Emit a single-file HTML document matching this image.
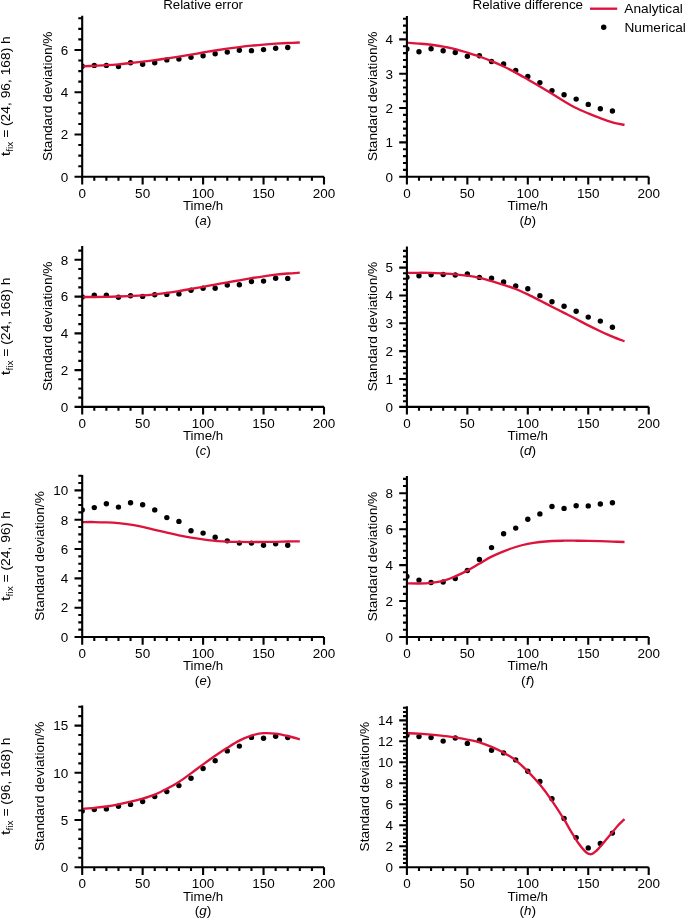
<!DOCTYPE html>
<html><head><meta charset="utf-8"><title>Standard deviation plots</title>
<style>
html,body{margin:0;padding:0;background:#fff;}
body{width:685px;height:919px;overflow:hidden;}
svg{display:block;will-change:transform;}
text{font-family:"Liberation Sans",sans-serif;fill:#000;}
</style></head>
<body>
<svg width="685" height="919" viewBox="0 0 685 919">
<rect width="685" height="919" fill="#fff"/>
<clipPath id="clipa"><rect x="82.20" y="10.80" width="241.80" height="165.95"/></clipPath>
<g clip-path="url(#clipa)">
<circle cx="82.20" cy="66.30" r="2.7"/>
<circle cx="94.29" cy="65.40" r="2.7"/>
<circle cx="106.38" cy="65.40" r="2.7"/>
<circle cx="118.47" cy="66.60" r="2.7"/>
<circle cx="130.56" cy="62.70" r="2.7"/>
<circle cx="142.65" cy="64.30" r="2.7"/>
<circle cx="154.74" cy="62.70" r="2.7"/>
<circle cx="166.83" cy="59.90" r="2.7"/>
<circle cx="178.92" cy="59.10" r="2.7"/>
<circle cx="191.01" cy="57.35" r="2.7"/>
<circle cx="203.10" cy="55.70" r="2.7"/>
<circle cx="215.19" cy="53.80" r="2.7"/>
<circle cx="227.28" cy="52.10" r="2.7"/>
<circle cx="239.37" cy="50.30" r="2.7"/>
<circle cx="251.46" cy="50.65" r="2.7"/>
<circle cx="263.55" cy="49.60" r="2.7"/>
<circle cx="275.64" cy="48.25" r="2.7"/>
<circle cx="287.73" cy="47.50" r="2.7"/>
<path d="M82.20,66.35C84.22,66.26 90.26,65.99 94.29,65.80C98.32,65.61 102.35,65.45 106.38,65.20C110.41,64.95 114.44,64.67 118.47,64.30C122.50,63.93 126.53,63.43 130.56,63.00C134.59,62.57 138.62,62.17 142.65,61.70C146.68,61.23 150.71,60.75 154.74,60.20C158.77,59.65 162.80,59.00 166.83,58.40C170.86,57.80 174.89,57.23 178.92,56.60C182.95,55.97 186.98,55.28 191.01,54.60C195.04,53.92 199.07,53.18 203.10,52.50C207.13,51.82 211.16,51.13 215.19,50.50C219.22,49.87 223.25,49.27 227.28,48.70C231.31,48.13 235.34,47.60 239.37,47.10C243.40,46.60 247.43,46.12 251.46,45.70C255.49,45.28 259.52,44.93 263.55,44.60C267.58,44.27 271.61,43.97 275.64,43.70C279.67,43.43 283.70,43.20 287.73,43.00C291.76,42.80 297.81,42.58 299.82,42.50" fill="none" stroke="#dc143c" stroke-width="2.35" stroke-linejoin="round"/>
</g>
<path d="M82.20,15.80V176.75H324.00" fill="none" stroke="#000" stroke-width="2.1" stroke-linecap="butt" stroke-linejoin="miter"/>
<path d="M82.20,176.75v7.7M142.65,176.75v7.7M203.10,176.75v7.7M263.55,176.75v7.7M324.00,176.75v7.7M94.29,176.75v3.9M106.38,176.75v3.9M118.47,176.75v3.9M130.56,176.75v3.9M154.74,176.75v3.9M166.83,176.75v3.9M178.92,176.75v3.9M191.01,176.75v3.9M215.19,176.75v3.9M227.28,176.75v3.9M239.37,176.75v3.9M251.46,176.75v3.9M275.64,176.75v3.9M287.73,176.75v3.9M299.82,176.75v3.9M311.91,176.75v3.9M82.20,176.75h-7.7M82.20,134.49h-7.7M82.20,92.23h-7.7M82.20,49.97h-7.7M82.20,166.19h-3.9M82.20,155.62h-3.9M82.20,145.06h-3.9M82.20,123.93h-3.9M82.20,113.36h-3.9M82.20,102.80h-3.9M82.20,81.67h-3.9M82.20,71.10h-3.9M82.20,60.54h-3.9M82.20,39.41h-3.9M82.20,28.84h-3.9M82.20,18.28h-3.9" stroke="#000" stroke-width="2.1" fill="none"/>
<text x="78.45" y="197.80" font-size="12.80" textLength="7.51" lengthAdjust="spacingAndGlyphs">0</text>
<text x="135.14" y="197.80" font-size="12.80" textLength="15.02" lengthAdjust="spacingAndGlyphs">50</text>
<text x="191.84" y="197.80" font-size="12.80" textLength="22.52" lengthAdjust="spacingAndGlyphs">100</text>
<text x="252.29" y="197.80" font-size="12.80" textLength="22.52" lengthAdjust="spacingAndGlyphs">150</text>
<text x="312.74" y="197.80" font-size="12.80" textLength="22.52" lengthAdjust="spacingAndGlyphs">200</text>
<text x="60.79" y="181.55" font-size="12.80" textLength="7.51" lengthAdjust="spacingAndGlyphs">0</text>
<text x="60.79" y="139.29" font-size="12.80" textLength="7.51" lengthAdjust="spacingAndGlyphs">2</text>
<text x="60.79" y="97.03" font-size="12.80" textLength="7.51" lengthAdjust="spacingAndGlyphs">4</text>
<text x="60.79" y="54.77" font-size="12.80" textLength="7.51" lengthAdjust="spacingAndGlyphs">6</text>
<text x="182.93" y="210.20" font-size="12.80" textLength="40.33" lengthAdjust="spacingAndGlyphs">Time/h</text>
<text x="194.88" y="224.80" font-size="12.80" textLength="4.60" lengthAdjust="spacingAndGlyphs">(</text>
<text x="199.48" y="224.80" font-size="12.80" textLength="7.23" lengthAdjust="spacingAndGlyphs" font-style="italic">a</text>
<text x="206.72" y="224.80" font-size="12.80" textLength="4.60" lengthAdjust="spacingAndGlyphs">)</text>
<text transform="translate(52.00,96.28) rotate(-90)" x="-64.73" y="0" font-size="12.80" textLength="129.47" lengthAdjust="spacingAndGlyphs">Standard deviation/&#37;</text>
<text transform="translate(9.75,156.33) rotate(-90)" x="0.00" y="0" font-size="12.80" textLength="4.63" lengthAdjust="spacingAndGlyphs">t</text>
<text transform="translate(12.75,151.70) rotate(-90)" x="0.00" y="0" font-size="8.96" textLength="10.09" lengthAdjust="spacingAndGlyphs">fix</text>
<text transform="translate(9.75,137.86) rotate(-90)" x="0.00" y="0" font-size="12.80" textLength="101.63" lengthAdjust="spacingAndGlyphs">= (24, 96, 168) h</text>
<clipPath id="clipb"><rect x="406.90" y="10.90" width="241.80" height="165.85"/></clipPath>
<g clip-path="url(#clipb)">
<circle cx="406.90" cy="49.00" r="2.7"/>
<circle cx="418.99" cy="51.80" r="2.7"/>
<circle cx="431.08" cy="48.70" r="2.7"/>
<circle cx="443.17" cy="50.80" r="2.7"/>
<circle cx="455.26" cy="52.50" r="2.7"/>
<circle cx="467.35" cy="56.20" r="2.7"/>
<circle cx="479.44" cy="55.70" r="2.7"/>
<circle cx="491.53" cy="61.50" r="2.7"/>
<circle cx="503.62" cy="64.05" r="2.7"/>
<circle cx="515.71" cy="70.50" r="2.7"/>
<circle cx="527.80" cy="76.40" r="2.7"/>
<circle cx="539.89" cy="82.60" r="2.7"/>
<circle cx="551.98" cy="90.60" r="2.7"/>
<circle cx="564.07" cy="94.70" r="2.7"/>
<circle cx="576.16" cy="99.10" r="2.7"/>
<circle cx="588.25" cy="104.40" r="2.7"/>
<circle cx="600.34" cy="108.80" r="2.7"/>
<circle cx="612.43" cy="111.00" r="2.7"/>
<path d="M406.90,42.70C408.91,42.85 414.96,43.26 418.99,43.60C423.02,43.94 427.05,44.23 431.08,44.75C435.11,45.27 439.14,45.98 443.17,46.70C447.20,47.43 451.23,48.12 455.26,49.10C459.29,50.08 463.32,51.37 467.35,52.60C471.38,53.83 475.41,55.07 479.44,56.50C483.47,57.93 487.50,59.53 491.53,61.20C495.56,62.87 499.59,64.60 503.62,66.50C507.65,68.40 511.68,70.45 515.71,72.60C519.74,74.75 523.77,77.10 527.80,79.40C531.83,81.70 535.86,84.02 539.89,86.40C543.92,88.78 547.95,91.23 551.98,93.70C556.01,96.17 560.04,98.82 564.07,101.20C568.10,103.58 572.13,105.97 576.16,108.00C580.19,110.03 584.22,111.70 588.25,113.40C592.28,115.10 596.31,116.72 600.34,118.20C604.37,119.68 608.40,121.17 612.43,122.30C616.46,123.43 622.50,124.55 624.52,125.00" fill="none" stroke="#dc143c" stroke-width="2.35" stroke-linejoin="round"/>
</g>
<path d="M406.90,15.90V176.75H648.70" fill="none" stroke="#000" stroke-width="2.1" stroke-linecap="butt" stroke-linejoin="miter"/>
<path d="M406.90,176.75v7.7M467.35,176.75v7.7M527.80,176.75v7.7M588.25,176.75v7.7M648.70,176.75v7.7M418.99,176.75v3.9M431.08,176.75v3.9M443.17,176.75v3.9M455.26,176.75v3.9M479.44,176.75v3.9M491.53,176.75v3.9M503.62,176.75v3.9M515.71,176.75v3.9M539.89,176.75v3.9M551.98,176.75v3.9M564.07,176.75v3.9M576.16,176.75v3.9M600.34,176.75v3.9M612.43,176.75v3.9M624.52,176.75v3.9M636.61,176.75v3.9M406.90,176.75h-7.7M406.90,142.40h-7.7M406.90,108.05h-7.7M406.90,73.70h-7.7M406.90,39.35h-7.7M406.90,169.88h-3.9M406.90,163.01h-3.9M406.90,156.14h-3.9M406.90,149.27h-3.9M406.90,135.53h-3.9M406.90,128.66h-3.9M406.90,121.79h-3.9M406.90,114.92h-3.9M406.90,101.18h-3.9M406.90,94.31h-3.9M406.90,87.44h-3.9M406.90,80.57h-3.9M406.90,66.83h-3.9M406.90,59.96h-3.9M406.90,53.09h-3.9M406.90,46.22h-3.9M406.90,32.48h-3.9M406.90,25.61h-3.9M406.90,18.74h-3.9" stroke="#000" stroke-width="2.1" fill="none"/>
<text x="403.15" y="197.80" font-size="12.80" textLength="7.51" lengthAdjust="spacingAndGlyphs">0</text>
<text x="459.84" y="197.80" font-size="12.80" textLength="15.02" lengthAdjust="spacingAndGlyphs">50</text>
<text x="516.54" y="197.80" font-size="12.80" textLength="22.52" lengthAdjust="spacingAndGlyphs">100</text>
<text x="576.99" y="197.80" font-size="12.80" textLength="22.52" lengthAdjust="spacingAndGlyphs">150</text>
<text x="637.44" y="197.80" font-size="12.80" textLength="22.52" lengthAdjust="spacingAndGlyphs">200</text>
<text x="385.49" y="181.55" font-size="12.80" textLength="7.51" lengthAdjust="spacingAndGlyphs">0</text>
<text x="385.49" y="147.20" font-size="12.80" textLength="7.51" lengthAdjust="spacingAndGlyphs">1</text>
<text x="385.49" y="112.85" font-size="12.80" textLength="7.51" lengthAdjust="spacingAndGlyphs">2</text>
<text x="385.49" y="78.50" font-size="12.80" textLength="7.51" lengthAdjust="spacingAndGlyphs">3</text>
<text x="385.49" y="44.15" font-size="12.80" textLength="7.51" lengthAdjust="spacingAndGlyphs">4</text>
<text x="507.63" y="210.20" font-size="12.80" textLength="40.33" lengthAdjust="spacingAndGlyphs">Time/h</text>
<text x="519.45" y="224.80" font-size="12.80" textLength="4.60" lengthAdjust="spacingAndGlyphs">(</text>
<text x="524.05" y="224.80" font-size="12.80" textLength="7.49" lengthAdjust="spacingAndGlyphs" font-style="italic">b</text>
<text x="531.55" y="224.80" font-size="12.80" textLength="4.60" lengthAdjust="spacingAndGlyphs">)</text>
<text transform="translate(376.70,96.33) rotate(-90)" x="-64.73" y="0" font-size="12.80" textLength="129.47" lengthAdjust="spacingAndGlyphs">Standard deviation/&#37;</text>
<clipPath id="clipc"><rect x="82.20" y="240.95" width="241.80" height="165.91"/></clipPath>
<g clip-path="url(#clipc)">
<circle cx="82.20" cy="297.00" r="2.7"/>
<circle cx="94.29" cy="295.20" r="2.7"/>
<circle cx="106.38" cy="295.20" r="2.7"/>
<circle cx="118.47" cy="297.30" r="2.7"/>
<circle cx="130.56" cy="295.80" r="2.7"/>
<circle cx="142.65" cy="296.40" r="2.7"/>
<circle cx="154.74" cy="294.80" r="2.7"/>
<circle cx="166.83" cy="294.40" r="2.7"/>
<circle cx="178.92" cy="293.90" r="2.7"/>
<circle cx="191.01" cy="290.20" r="2.7"/>
<circle cx="203.10" cy="288.30" r="2.7"/>
<circle cx="215.19" cy="288.30" r="2.7"/>
<circle cx="227.28" cy="285.10" r="2.7"/>
<circle cx="239.37" cy="284.70" r="2.7"/>
<circle cx="251.46" cy="281.50" r="2.7"/>
<circle cx="263.55" cy="281.10" r="2.7"/>
<circle cx="275.64" cy="278.20" r="2.7"/>
<circle cx="287.73" cy="278.40" r="2.7"/>
<path d="M82.20,297.00C84.22,297.00 90.26,297.03 94.29,297.00C98.32,296.97 102.35,296.88 106.38,296.80C110.41,296.72 114.44,296.63 118.47,296.50C122.50,296.37 126.53,296.18 130.56,296.00C134.59,295.82 138.62,295.68 142.65,295.40C146.68,295.12 150.71,294.72 154.74,294.30C158.77,293.88 162.80,293.43 166.83,292.90C170.86,292.37 174.89,291.75 178.92,291.10C182.95,290.45 186.98,289.72 191.01,289.00C195.04,288.28 199.07,287.53 203.10,286.80C207.13,286.07 211.16,285.33 215.19,284.60C219.22,283.87 223.25,283.12 227.28,282.40C231.31,281.68 235.34,281.00 239.37,280.30C243.40,279.60 247.43,278.87 251.46,278.20C255.49,277.53 259.52,276.88 263.55,276.30C267.58,275.72 271.61,275.17 275.64,274.70C279.67,274.23 283.70,273.83 287.73,273.50C291.76,273.17 297.81,272.83 299.82,272.70" fill="none" stroke="#dc143c" stroke-width="2.35" stroke-linejoin="round"/>
</g>
<path d="M82.20,245.95V406.86H324.00" fill="none" stroke="#000" stroke-width="2.1" stroke-linecap="butt" stroke-linejoin="miter"/>
<path d="M82.20,406.86v7.7M142.65,406.86v7.7M203.10,406.86v7.7M263.55,406.86v7.7M324.00,406.86v7.7M94.29,406.86v3.9M106.38,406.86v3.9M118.47,406.86v3.9M130.56,406.86v3.9M154.74,406.86v3.9M166.83,406.86v3.9M178.92,406.86v3.9M191.01,406.86v3.9M215.19,406.86v3.9M227.28,406.86v3.9M239.37,406.86v3.9M251.46,406.86v3.9M275.64,406.86v3.9M287.73,406.86v3.9M299.82,406.86v3.9M311.91,406.86v3.9M82.20,406.86h-7.7M82.20,370.10h-7.7M82.20,333.34h-7.7M82.20,296.58h-7.7M82.20,259.82h-7.7M82.20,397.67h-3.9M82.20,388.48h-3.9M82.20,379.29h-3.9M82.20,360.91h-3.9M82.20,351.72h-3.9M82.20,342.53h-3.9M82.20,324.15h-3.9M82.20,314.96h-3.9M82.20,305.77h-3.9M82.20,287.39h-3.9M82.20,278.20h-3.9M82.20,269.01h-3.9M82.20,250.63h-3.9" stroke="#000" stroke-width="2.1" fill="none"/>
<text x="78.45" y="427.91" font-size="12.80" textLength="7.51" lengthAdjust="spacingAndGlyphs">0</text>
<text x="135.14" y="427.91" font-size="12.80" textLength="15.02" lengthAdjust="spacingAndGlyphs">50</text>
<text x="191.84" y="427.91" font-size="12.80" textLength="22.52" lengthAdjust="spacingAndGlyphs">100</text>
<text x="252.29" y="427.91" font-size="12.80" textLength="22.52" lengthAdjust="spacingAndGlyphs">150</text>
<text x="312.74" y="427.91" font-size="12.80" textLength="22.52" lengthAdjust="spacingAndGlyphs">200</text>
<text x="60.79" y="411.66" font-size="12.80" textLength="7.51" lengthAdjust="spacingAndGlyphs">0</text>
<text x="60.79" y="374.90" font-size="12.80" textLength="7.51" lengthAdjust="spacingAndGlyphs">2</text>
<text x="60.79" y="338.14" font-size="12.80" textLength="7.51" lengthAdjust="spacingAndGlyphs">4</text>
<text x="60.79" y="301.38" font-size="12.80" textLength="7.51" lengthAdjust="spacingAndGlyphs">6</text>
<text x="60.79" y="264.62" font-size="12.80" textLength="7.51" lengthAdjust="spacingAndGlyphs">8</text>
<text x="182.93" y="440.31" font-size="12.80" textLength="40.33" lengthAdjust="spacingAndGlyphs">Time/h</text>
<text x="195.25" y="454.91" font-size="12.80" textLength="4.60" lengthAdjust="spacingAndGlyphs">(</text>
<text x="199.86" y="454.91" font-size="12.80" textLength="6.49" lengthAdjust="spacingAndGlyphs" font-style="italic">c</text>
<text x="206.34" y="454.91" font-size="12.80" textLength="4.60" lengthAdjust="spacingAndGlyphs">)</text>
<text transform="translate(52.00,326.40) rotate(-90)" x="-64.73" y="0" font-size="12.80" textLength="129.47" lengthAdjust="spacingAndGlyphs">Standard deviation/&#37;</text>
<text transform="translate(9.75,375.20) rotate(-90)" x="0.00" y="0" font-size="12.80" textLength="4.63" lengthAdjust="spacingAndGlyphs">t</text>
<text transform="translate(12.75,370.57) rotate(-90)" x="0.00" y="0" font-size="8.96" textLength="10.09" lengthAdjust="spacingAndGlyphs">fix</text>
<text transform="translate(9.75,356.73) rotate(-90)" x="0.00" y="0" font-size="12.80" textLength="79.11" lengthAdjust="spacingAndGlyphs">= (24, 168) h</text>
<clipPath id="clipd"><rect x="406.90" y="241.40" width="241.80" height="165.46"/></clipPath>
<g clip-path="url(#clipd)">
<circle cx="406.90" cy="277.30" r="2.7"/>
<circle cx="418.99" cy="275.80" r="2.7"/>
<circle cx="431.08" cy="274.85" r="2.7"/>
<circle cx="443.17" cy="274.50" r="2.7"/>
<circle cx="455.26" cy="275.00" r="2.7"/>
<circle cx="467.35" cy="274.00" r="2.7"/>
<circle cx="479.44" cy="277.40" r="2.7"/>
<circle cx="491.53" cy="278.20" r="2.7"/>
<circle cx="503.62" cy="281.95" r="2.7"/>
<circle cx="515.71" cy="286.00" r="2.7"/>
<circle cx="527.80" cy="288.80" r="2.7"/>
<circle cx="539.89" cy="295.65" r="2.7"/>
<circle cx="551.98" cy="301.70" r="2.7"/>
<circle cx="564.07" cy="306.20" r="2.7"/>
<circle cx="576.16" cy="311.30" r="2.7"/>
<circle cx="588.25" cy="317.10" r="2.7"/>
<circle cx="600.34" cy="321.10" r="2.7"/>
<circle cx="612.43" cy="327.20" r="2.7"/>
<path d="M406.90,272.90C408.91,272.88 414.96,272.80 418.99,272.80C423.02,272.80 427.05,272.78 431.08,272.90C435.11,273.02 439.14,273.27 443.17,273.50C447.20,273.73 451.23,273.93 455.26,274.30C459.29,274.67 463.32,275.10 467.35,275.70C471.38,276.30 475.41,277.00 479.44,277.90C483.47,278.80 487.50,279.94 491.53,281.10C495.56,282.26 499.59,283.53 503.62,284.85C507.65,286.17 511.68,287.41 515.71,289.00C519.74,290.59 523.77,292.48 527.80,294.40C531.83,296.32 535.86,298.43 539.89,300.50C543.92,302.57 547.95,304.73 551.98,306.80C556.01,308.87 560.04,310.87 564.07,312.90C568.10,314.93 572.13,316.92 576.16,319.00C580.19,321.08 584.22,323.37 588.25,325.40C592.28,327.43 596.31,329.33 600.34,331.20C604.37,333.07 608.40,334.92 612.43,336.60C616.46,338.28 622.50,340.52 624.52,341.30" fill="none" stroke="#dc143c" stroke-width="2.35" stroke-linejoin="round"/>
</g>
<path d="M406.90,246.40V406.86H648.70" fill="none" stroke="#000" stroke-width="2.1" stroke-linecap="butt" stroke-linejoin="miter"/>
<path d="M406.90,406.86v7.7M467.35,406.86v7.7M527.80,406.86v7.7M588.25,406.86v7.7M648.70,406.86v7.7M418.99,406.86v3.9M431.08,406.86v3.9M443.17,406.86v3.9M455.26,406.86v3.9M479.44,406.86v3.9M491.53,406.86v3.9M503.62,406.86v3.9M515.71,406.86v3.9M539.89,406.86v3.9M551.98,406.86v3.9M564.07,406.86v3.9M576.16,406.86v3.9M600.34,406.86v3.9M612.43,406.86v3.9M624.52,406.86v3.9M636.61,406.86v3.9M406.90,406.86h-7.7M406.90,379.01h-7.7M406.90,351.16h-7.7M406.90,323.31h-7.7M406.90,295.46h-7.7M406.90,267.61h-7.7M406.90,401.29h-3.9M406.90,395.72h-3.9M406.90,390.15h-3.9M406.90,384.58h-3.9M406.90,373.44h-3.9M406.90,367.87h-3.9M406.90,362.30h-3.9M406.90,356.73h-3.9M406.90,345.59h-3.9M406.90,340.02h-3.9M406.90,334.45h-3.9M406.90,328.88h-3.9M406.90,317.74h-3.9M406.90,312.17h-3.9M406.90,306.60h-3.9M406.90,301.03h-3.9M406.90,289.89h-3.9M406.90,284.32h-3.9M406.90,278.75h-3.9M406.90,273.18h-3.9M406.90,262.04h-3.9M406.90,256.47h-3.9M406.90,250.90h-3.9" stroke="#000" stroke-width="2.1" fill="none"/>
<text x="403.15" y="427.91" font-size="12.80" textLength="7.51" lengthAdjust="spacingAndGlyphs">0</text>
<text x="459.84" y="427.91" font-size="12.80" textLength="15.02" lengthAdjust="spacingAndGlyphs">50</text>
<text x="516.54" y="427.91" font-size="12.80" textLength="22.52" lengthAdjust="spacingAndGlyphs">100</text>
<text x="576.99" y="427.91" font-size="12.80" textLength="22.52" lengthAdjust="spacingAndGlyphs">150</text>
<text x="637.44" y="427.91" font-size="12.80" textLength="22.52" lengthAdjust="spacingAndGlyphs">200</text>
<text x="385.49" y="411.66" font-size="12.80" textLength="7.51" lengthAdjust="spacingAndGlyphs">0</text>
<text x="385.49" y="383.81" font-size="12.80" textLength="7.51" lengthAdjust="spacingAndGlyphs">1</text>
<text x="385.49" y="355.96" font-size="12.80" textLength="7.51" lengthAdjust="spacingAndGlyphs">2</text>
<text x="385.49" y="328.11" font-size="12.80" textLength="7.51" lengthAdjust="spacingAndGlyphs">3</text>
<text x="385.49" y="300.26" font-size="12.80" textLength="7.51" lengthAdjust="spacingAndGlyphs">4</text>
<text x="385.49" y="272.41" font-size="12.80" textLength="7.51" lengthAdjust="spacingAndGlyphs">5</text>
<text x="507.63" y="440.31" font-size="12.80" textLength="40.33" lengthAdjust="spacingAndGlyphs">Time/h</text>
<text x="519.45" y="454.91" font-size="12.80" textLength="4.60" lengthAdjust="spacingAndGlyphs">(</text>
<text x="524.05" y="454.91" font-size="12.80" textLength="7.49" lengthAdjust="spacingAndGlyphs" font-style="italic">d</text>
<text x="531.55" y="454.91" font-size="12.80" textLength="4.60" lengthAdjust="spacingAndGlyphs">)</text>
<text transform="translate(376.70,326.63) rotate(-90)" x="-64.73" y="0" font-size="12.80" textLength="129.47" lengthAdjust="spacingAndGlyphs">Standard deviation/&#37;</text>
<clipPath id="clipe"><rect x="82.20" y="470.00" width="241.80" height="167.00"/></clipPath>
<g clip-path="url(#clipe)">
<circle cx="82.20" cy="509.90" r="2.7"/>
<circle cx="94.29" cy="507.60" r="2.7"/>
<circle cx="106.38" cy="503.80" r="2.7"/>
<circle cx="118.47" cy="507.10" r="2.7"/>
<circle cx="130.56" cy="502.80" r="2.7"/>
<circle cx="142.65" cy="504.70" r="2.7"/>
<circle cx="154.74" cy="509.90" r="2.7"/>
<circle cx="166.83" cy="517.60" r="2.7"/>
<circle cx="178.92" cy="521.40" r="2.7"/>
<circle cx="191.01" cy="530.70" r="2.7"/>
<circle cx="203.10" cy="533.10" r="2.7"/>
<circle cx="215.19" cy="537.30" r="2.7"/>
<circle cx="227.28" cy="540.85" r="2.7"/>
<circle cx="239.37" cy="543.10" r="2.7"/>
<circle cx="251.46" cy="543.10" r="2.7"/>
<circle cx="263.55" cy="545.20" r="2.7"/>
<circle cx="275.64" cy="543.80" r="2.7"/>
<circle cx="287.73" cy="545.20" r="2.7"/>
<path d="M82.20,522.10C84.22,522.09 90.26,522.00 94.29,522.05C98.32,522.10 102.35,522.21 106.38,522.40C110.41,522.59 114.44,522.83 118.47,523.20C122.50,523.57 126.53,524.00 130.56,524.60C134.59,525.20 138.62,525.93 142.65,526.80C146.68,527.67 150.71,528.83 154.74,529.80C158.77,530.77 162.80,531.68 166.83,532.60C170.86,533.52 174.89,534.47 178.92,535.30C182.95,536.13 186.98,536.92 191.01,537.60C195.04,538.28 199.07,538.85 203.10,539.40C207.13,539.95 211.16,540.53 215.19,540.90C219.22,541.27 223.25,541.43 227.28,541.60C231.31,541.77 235.34,541.83 239.37,541.90C243.40,541.97 247.43,542.05 251.46,542.05C255.49,542.05 259.52,541.94 263.55,541.90C267.58,541.86 271.61,541.87 275.64,541.80C279.67,541.73 283.70,541.58 287.73,541.50C291.76,541.42 297.81,541.33 299.82,541.30" fill="none" stroke="#dc143c" stroke-width="2.35" stroke-linejoin="round"/>
</g>
<path d="M82.20,475.00V637.00H324.00" fill="none" stroke="#000" stroke-width="2.1" stroke-linecap="butt" stroke-linejoin="miter"/>
<path d="M82.20,637.00v7.7M142.65,637.00v7.7M203.10,637.00v7.7M263.55,637.00v7.7M324.00,637.00v7.7M94.29,637.00v3.9M106.38,637.00v3.9M118.47,637.00v3.9M130.56,637.00v3.9M154.74,637.00v3.9M166.83,637.00v3.9M178.92,637.00v3.9M191.01,637.00v3.9M215.19,637.00v3.9M227.28,637.00v3.9M239.37,637.00v3.9M251.46,637.00v3.9M275.64,637.00v3.9M287.73,637.00v3.9M299.82,637.00v3.9M311.91,637.00v3.9M82.20,637.00h-7.7M82.20,607.68h-7.7M82.20,578.36h-7.7M82.20,549.04h-7.7M82.20,519.72h-7.7M82.20,490.40h-7.7M82.20,629.67h-3.9M82.20,622.34h-3.9M82.20,615.01h-3.9M82.20,600.35h-3.9M82.20,593.02h-3.9M82.20,585.69h-3.9M82.20,571.03h-3.9M82.20,563.70h-3.9M82.20,556.37h-3.9M82.20,541.71h-3.9M82.20,534.38h-3.9M82.20,527.05h-3.9M82.20,512.39h-3.9M82.20,505.06h-3.9M82.20,497.73h-3.9M82.20,483.07h-3.9M82.20,475.74h-3.9" stroke="#000" stroke-width="2.1" fill="none"/>
<text x="78.45" y="658.05" font-size="12.80" textLength="7.51" lengthAdjust="spacingAndGlyphs">0</text>
<text x="135.14" y="658.05" font-size="12.80" textLength="15.02" lengthAdjust="spacingAndGlyphs">50</text>
<text x="191.84" y="658.05" font-size="12.80" textLength="22.52" lengthAdjust="spacingAndGlyphs">100</text>
<text x="252.29" y="658.05" font-size="12.80" textLength="22.52" lengthAdjust="spacingAndGlyphs">150</text>
<text x="312.74" y="658.05" font-size="12.80" textLength="22.52" lengthAdjust="spacingAndGlyphs">200</text>
<text x="60.79" y="641.80" font-size="12.80" textLength="7.51" lengthAdjust="spacingAndGlyphs">0</text>
<text x="60.79" y="612.48" font-size="12.80" textLength="7.51" lengthAdjust="spacingAndGlyphs">2</text>
<text x="60.79" y="583.16" font-size="12.80" textLength="7.51" lengthAdjust="spacingAndGlyphs">4</text>
<text x="60.79" y="553.84" font-size="12.80" textLength="7.51" lengthAdjust="spacingAndGlyphs">6</text>
<text x="60.79" y="524.52" font-size="12.80" textLength="7.51" lengthAdjust="spacingAndGlyphs">8</text>
<text x="53.28" y="495.20" font-size="12.80" textLength="15.02" lengthAdjust="spacingAndGlyphs">10</text>
<text x="182.93" y="670.45" font-size="12.80" textLength="40.33" lengthAdjust="spacingAndGlyphs">Time/h</text>
<text x="194.87" y="685.05" font-size="12.80" textLength="4.60" lengthAdjust="spacingAndGlyphs">(</text>
<text x="199.47" y="685.05" font-size="12.80" textLength="7.26" lengthAdjust="spacingAndGlyphs" font-style="italic">e</text>
<text x="206.73" y="685.05" font-size="12.80" textLength="4.60" lengthAdjust="spacingAndGlyphs">)</text>
<text transform="translate(44.49,556.00) rotate(-90)" x="-64.73" y="0" font-size="12.80" textLength="129.47" lengthAdjust="spacingAndGlyphs">Standard deviation/&#37;</text>
<text transform="translate(9.75,601.04) rotate(-90)" x="0.00" y="0" font-size="12.80" textLength="4.63" lengthAdjust="spacingAndGlyphs">t</text>
<text transform="translate(12.75,596.41) rotate(-90)" x="0.00" y="0" font-size="8.96" textLength="10.09" lengthAdjust="spacingAndGlyphs">fix</text>
<text transform="translate(9.75,582.57) rotate(-90)" x="0.00" y="0" font-size="12.80" textLength="71.61" lengthAdjust="spacingAndGlyphs">= (24, 96) h</text>
<clipPath id="clipf"><rect x="406.90" y="471.05" width="241.80" height="165.95"/></clipPath>
<g clip-path="url(#clipf)">
<circle cx="406.90" cy="576.40" r="2.7"/>
<circle cx="418.99" cy="580.10" r="2.7"/>
<circle cx="431.08" cy="582.50" r="2.7"/>
<circle cx="443.17" cy="582.00" r="2.7"/>
<circle cx="455.26" cy="578.50" r="2.7"/>
<circle cx="467.35" cy="570.50" r="2.7"/>
<circle cx="479.44" cy="559.40" r="2.7"/>
<circle cx="491.53" cy="547.60" r="2.7"/>
<circle cx="503.62" cy="533.80" r="2.7"/>
<circle cx="515.71" cy="528.10" r="2.7"/>
<circle cx="527.80" cy="519.20" r="2.7"/>
<circle cx="539.89" cy="513.90" r="2.7"/>
<circle cx="551.98" cy="506.50" r="2.7"/>
<circle cx="564.07" cy="508.40" r="2.7"/>
<circle cx="576.16" cy="505.80" r="2.7"/>
<circle cx="588.25" cy="505.90" r="2.7"/>
<circle cx="600.34" cy="504.00" r="2.7"/>
<circle cx="612.43" cy="502.80" r="2.7"/>
<path d="M406.90,583.30C408.91,583.33 414.96,583.58 418.99,583.50C423.02,583.42 427.05,583.28 431.08,582.85C435.11,582.42 439.14,581.99 443.17,580.90C447.20,579.81 451.23,578.02 455.26,576.30C459.29,574.58 463.32,572.72 467.35,570.60C471.38,568.48 475.41,565.93 479.44,563.60C483.47,561.27 487.50,558.65 491.53,556.60C495.56,554.55 499.59,552.90 503.62,551.30C507.65,549.70 511.68,548.23 515.71,547.00C519.74,545.77 523.77,544.73 527.80,543.90C531.83,543.07 535.86,542.48 539.89,542.00C543.92,541.52 547.95,541.22 551.98,541.00C556.01,540.78 560.04,540.75 564.07,540.70C568.10,540.65 572.13,540.68 576.16,540.70C580.19,540.72 584.22,540.73 588.25,540.80C592.28,540.87 596.31,540.97 600.34,541.10C604.37,541.23 608.40,541.45 612.43,541.60C616.46,541.75 622.50,541.93 624.52,542.00" fill="none" stroke="#dc143c" stroke-width="2.35" stroke-linejoin="round"/>
</g>
<path d="M406.90,476.05V637.00H648.70" fill="none" stroke="#000" stroke-width="2.1" stroke-linecap="butt" stroke-linejoin="miter"/>
<path d="M406.90,637.00v7.7M467.35,637.00v7.7M527.80,637.00v7.7M588.25,637.00v7.7M648.70,637.00v7.7M418.99,637.00v3.9M431.08,637.00v3.9M443.17,637.00v3.9M455.26,637.00v3.9M479.44,637.00v3.9M491.53,637.00v3.9M503.62,637.00v3.9M515.71,637.00v3.9M539.89,637.00v3.9M551.98,637.00v3.9M564.07,637.00v3.9M576.16,637.00v3.9M600.34,637.00v3.9M612.43,637.00v3.9M624.52,637.00v3.9M636.61,637.00v3.9M406.90,637.00h-7.7M406.90,601.06h-7.7M406.90,565.12h-7.7M406.90,529.18h-7.7M406.90,493.24h-7.7M406.90,629.81h-3.9M406.90,622.62h-3.9M406.90,615.44h-3.9M406.90,608.25h-3.9M406.90,593.87h-3.9M406.90,586.68h-3.9M406.90,579.50h-3.9M406.90,572.31h-3.9M406.90,557.93h-3.9M406.90,550.74h-3.9M406.90,543.56h-3.9M406.90,536.37h-3.9M406.90,521.99h-3.9M406.90,514.80h-3.9M406.90,507.62h-3.9M406.90,500.43h-3.9M406.90,486.05h-3.9M406.90,478.86h-3.9" stroke="#000" stroke-width="2.1" fill="none"/>
<text x="403.15" y="658.05" font-size="12.80" textLength="7.51" lengthAdjust="spacingAndGlyphs">0</text>
<text x="459.84" y="658.05" font-size="12.80" textLength="15.02" lengthAdjust="spacingAndGlyphs">50</text>
<text x="516.54" y="658.05" font-size="12.80" textLength="22.52" lengthAdjust="spacingAndGlyphs">100</text>
<text x="576.99" y="658.05" font-size="12.80" textLength="22.52" lengthAdjust="spacingAndGlyphs">150</text>
<text x="637.44" y="658.05" font-size="12.80" textLength="22.52" lengthAdjust="spacingAndGlyphs">200</text>
<text x="385.49" y="641.80" font-size="12.80" textLength="7.51" lengthAdjust="spacingAndGlyphs">0</text>
<text x="385.49" y="605.86" font-size="12.80" textLength="7.51" lengthAdjust="spacingAndGlyphs">2</text>
<text x="385.49" y="569.92" font-size="12.80" textLength="7.51" lengthAdjust="spacingAndGlyphs">4</text>
<text x="385.49" y="533.98" font-size="12.80" textLength="7.51" lengthAdjust="spacingAndGlyphs">6</text>
<text x="385.49" y="498.04" font-size="12.80" textLength="7.51" lengthAdjust="spacingAndGlyphs">8</text>
<text x="507.63" y="670.45" font-size="12.80" textLength="40.33" lengthAdjust="spacingAndGlyphs">Time/h</text>
<text x="521.12" y="685.05" font-size="12.80" textLength="4.60" lengthAdjust="spacingAndGlyphs">(</text>
<text x="525.72" y="685.05" font-size="12.80" textLength="4.15" lengthAdjust="spacingAndGlyphs" font-style="italic">f</text>
<text x="529.88" y="685.05" font-size="12.80" textLength="4.60" lengthAdjust="spacingAndGlyphs">)</text>
<text transform="translate(376.70,556.52) rotate(-90)" x="-64.73" y="0" font-size="12.80" textLength="129.47" lengthAdjust="spacingAndGlyphs">Standard deviation/&#37;</text>
<clipPath id="clipg"><rect x="82.20" y="700.40" width="241.80" height="166.80"/></clipPath>
<g clip-path="url(#clipg)">
<circle cx="82.20" cy="810.90" r="2.7"/>
<circle cx="94.29" cy="809.60" r="2.7"/>
<circle cx="106.38" cy="808.90" r="2.7"/>
<circle cx="118.47" cy="806.20" r="2.7"/>
<circle cx="130.56" cy="804.40" r="2.7"/>
<circle cx="142.65" cy="801.50" r="2.7"/>
<circle cx="154.74" cy="796.60" r="2.7"/>
<circle cx="166.83" cy="791.60" r="2.7"/>
<circle cx="178.92" cy="785.60" r="2.7"/>
<circle cx="191.01" cy="778.25" r="2.7"/>
<circle cx="203.10" cy="768.50" r="2.7"/>
<circle cx="215.19" cy="760.70" r="2.7"/>
<circle cx="227.28" cy="750.90" r="2.7"/>
<circle cx="239.37" cy="746.10" r="2.7"/>
<circle cx="251.46" cy="737.40" r="2.7"/>
<circle cx="263.55" cy="738.30" r="2.7"/>
<circle cx="275.64" cy="736.30" r="2.7"/>
<circle cx="287.73" cy="737.50" r="2.7"/>
<path d="M82.20,808.80C84.22,808.63 90.26,808.18 94.29,807.80C98.32,807.42 102.35,807.07 106.38,806.50C110.41,805.93 114.44,805.20 118.47,804.40C122.50,803.60 126.53,802.67 130.56,801.70C134.59,800.73 138.62,799.78 142.65,798.60C146.68,797.42 150.71,796.23 154.74,794.60C158.77,792.97 162.80,790.92 166.83,788.80C170.86,786.68 174.89,784.47 178.92,781.90C182.95,779.33 186.98,776.32 191.01,773.40C195.04,770.48 199.07,767.33 203.10,764.40C207.13,761.47 211.16,758.57 215.19,755.80C219.22,753.03 223.25,750.33 227.28,747.80C231.31,745.27 235.34,742.63 239.37,740.60C243.40,738.57 247.43,736.83 251.46,735.60C255.49,734.37 259.52,733.53 263.55,733.20C267.58,732.87 271.61,733.13 275.64,733.60C279.67,734.07 283.70,735.05 287.73,736.00C291.76,736.95 297.81,738.75 299.82,739.30" fill="none" stroke="#dc143c" stroke-width="2.35" stroke-linejoin="round"/>
</g>
<path d="M82.20,705.40V867.20H324.00" fill="none" stroke="#000" stroke-width="2.1" stroke-linecap="butt" stroke-linejoin="miter"/>
<path d="M82.20,867.20v7.7M142.65,867.20v7.7M203.10,867.20v7.7M263.55,867.20v7.7M324.00,867.20v7.7M94.29,867.20v3.9M106.38,867.20v3.9M118.47,867.20v3.9M130.56,867.20v3.9M154.74,867.20v3.9M166.83,867.20v3.9M178.92,867.20v3.9M191.01,867.20v3.9M215.19,867.20v3.9M227.28,867.20v3.9M239.37,867.20v3.9M251.46,867.20v3.9M275.64,867.20v3.9M287.73,867.20v3.9M299.82,867.20v3.9M311.91,867.20v3.9M82.20,867.20h-7.7M82.20,820.00h-7.7M82.20,772.80h-7.7M82.20,725.60h-7.7M82.20,857.76h-3.9M82.20,848.32h-3.9M82.20,838.88h-3.9M82.20,829.44h-3.9M82.20,810.56h-3.9M82.20,801.12h-3.9M82.20,791.68h-3.9M82.20,782.24h-3.9M82.20,763.36h-3.9M82.20,753.92h-3.9M82.20,744.48h-3.9M82.20,735.04h-3.9M82.20,716.16h-3.9M82.20,706.72h-3.9" stroke="#000" stroke-width="2.1" fill="none"/>
<text x="78.45" y="888.25" font-size="12.80" textLength="7.51" lengthAdjust="spacingAndGlyphs">0</text>
<text x="135.14" y="888.25" font-size="12.80" textLength="15.02" lengthAdjust="spacingAndGlyphs">50</text>
<text x="191.84" y="888.25" font-size="12.80" textLength="22.52" lengthAdjust="spacingAndGlyphs">100</text>
<text x="252.29" y="888.25" font-size="12.80" textLength="22.52" lengthAdjust="spacingAndGlyphs">150</text>
<text x="312.74" y="888.25" font-size="12.80" textLength="22.52" lengthAdjust="spacingAndGlyphs">200</text>
<text x="60.79" y="872.00" font-size="12.80" textLength="7.51" lengthAdjust="spacingAndGlyphs">0</text>
<text x="60.79" y="824.80" font-size="12.80" textLength="7.51" lengthAdjust="spacingAndGlyphs">5</text>
<text x="53.28" y="777.60" font-size="12.80" textLength="15.02" lengthAdjust="spacingAndGlyphs">10</text>
<text x="53.28" y="730.40" font-size="12.80" textLength="15.02" lengthAdjust="spacingAndGlyphs">15</text>
<text x="182.93" y="900.65" font-size="12.80" textLength="40.33" lengthAdjust="spacingAndGlyphs">Time/h</text>
<text x="194.75" y="915.25" font-size="12.80" textLength="4.60" lengthAdjust="spacingAndGlyphs">(</text>
<text x="199.35" y="915.25" font-size="12.80" textLength="7.49" lengthAdjust="spacingAndGlyphs" font-style="italic">g</text>
<text x="206.85" y="915.25" font-size="12.80" textLength="4.60" lengthAdjust="spacingAndGlyphs">)</text>
<text transform="translate(44.49,786.30) rotate(-90)" x="-64.73" y="0" font-size="12.80" textLength="129.47" lengthAdjust="spacingAndGlyphs">Standard deviation/&#37;</text>
<text transform="translate(9.75,835.09) rotate(-90)" x="0.00" y="0" font-size="12.80" textLength="4.63" lengthAdjust="spacingAndGlyphs">t</text>
<text transform="translate(12.75,830.47) rotate(-90)" x="0.00" y="0" font-size="8.96" textLength="10.09" lengthAdjust="spacingAndGlyphs">fix</text>
<text transform="translate(9.75,816.62) rotate(-90)" x="0.00" y="0" font-size="12.80" textLength="79.11" lengthAdjust="spacingAndGlyphs">= (96, 168) h</text>
<clipPath id="cliph"><rect x="406.90" y="701.25" width="241.80" height="165.95"/></clipPath>
<g clip-path="url(#cliph)">
<circle cx="406.90" cy="735.30" r="2.7"/>
<circle cx="418.99" cy="736.60" r="2.7"/>
<circle cx="431.08" cy="737.50" r="2.7"/>
<circle cx="443.17" cy="741.10" r="2.7"/>
<circle cx="455.26" cy="738.00" r="2.7"/>
<circle cx="467.35" cy="743.40" r="2.7"/>
<circle cx="479.44" cy="740.30" r="2.7"/>
<circle cx="491.53" cy="750.30" r="2.7"/>
<circle cx="503.62" cy="752.90" r="2.7"/>
<circle cx="515.71" cy="759.90" r="2.7"/>
<circle cx="527.80" cy="771.30" r="2.7"/>
<circle cx="539.89" cy="781.40" r="2.7"/>
<circle cx="551.98" cy="798.70" r="2.7"/>
<circle cx="564.07" cy="818.50" r="2.7"/>
<circle cx="576.16" cy="837.60" r="2.7"/>
<circle cx="588.25" cy="847.90" r="2.7"/>
<circle cx="600.34" cy="843.50" r="2.7"/>
<circle cx="612.43" cy="833.10" r="2.7"/>
<path d="M406.90,733.20C408.91,733.28 414.96,733.47 418.99,733.70C423.02,733.93 427.05,734.23 431.08,734.60C435.11,734.97 439.14,735.43 443.17,735.90C447.20,736.37 451.23,736.78 455.26,737.40C459.29,738.02 463.32,738.77 467.35,739.60C471.38,740.43 475.41,741.18 479.44,742.40C483.47,743.62 487.50,745.18 491.53,746.90C495.56,748.62 499.59,750.45 503.62,752.70C507.65,754.95 511.68,757.30 515.71,760.40C519.74,763.50 523.77,767.27 527.80,771.30C531.83,775.33 535.86,779.68 539.89,784.60C543.92,789.52 547.95,795.00 551.98,800.80C556.01,806.60 561.25,814.90 564.07,819.40C566.89,823.90 567.26,825.02 568.90,827.80C570.54,830.58 572.18,833.35 573.90,836.10C575.62,838.85 577.48,841.92 579.20,844.30C580.92,846.68 582.83,848.92 584.20,850.40C585.57,851.88 586.42,852.57 587.40,853.20C588.38,853.83 589.22,854.13 590.10,854.20C590.98,854.27 591.88,853.98 592.70,853.60C593.52,853.22 594.03,852.73 595.00,851.90C595.97,851.07 596.52,850.78 598.50,848.60C600.48,846.42 604.62,841.48 606.90,838.80C609.18,836.12 610.35,834.72 612.20,832.50C614.05,830.28 615.95,827.73 618.00,825.50C620.05,823.27 623.42,820.17 624.50,819.10" fill="none" stroke="#dc143c" stroke-width="2.35" stroke-linejoin="round"/>
</g>
<path d="M406.90,706.25V867.20H648.70" fill="none" stroke="#000" stroke-width="2.1" stroke-linecap="butt" stroke-linejoin="miter"/>
<path d="M406.90,867.20v7.7M467.35,867.20v7.7M527.80,867.20v7.7M588.25,867.20v7.7M648.70,867.20v7.7M418.99,867.20v3.9M431.08,867.20v3.9M443.17,867.20v3.9M455.26,867.20v3.9M479.44,867.20v3.9M491.53,867.20v3.9M503.62,867.20v3.9M515.71,867.20v3.9M539.89,867.20v3.9M551.98,867.20v3.9M564.07,867.20v3.9M576.16,867.20v3.9M600.34,867.20v3.9M612.43,867.20v3.9M624.52,867.20v3.9M636.61,867.20v3.9M406.90,867.20h-7.7M406.90,846.22h-7.7M406.90,825.24h-7.7M406.90,804.26h-7.7M406.90,783.28h-7.7M406.90,762.30h-7.7M406.90,741.32h-7.7M406.90,720.34h-7.7M406.90,863.00h-3.9M406.90,858.81h-3.9M406.90,854.61h-3.9M406.90,850.42h-3.9M406.90,842.02h-3.9M406.90,837.83h-3.9M406.90,833.63h-3.9M406.90,829.44h-3.9M406.90,821.04h-3.9M406.90,816.85h-3.9M406.90,812.65h-3.9M406.90,808.46h-3.9M406.90,800.06h-3.9M406.90,795.87h-3.9M406.90,791.67h-3.9M406.90,787.48h-3.9M406.90,779.08h-3.9M406.90,774.89h-3.9M406.90,770.69h-3.9M406.90,766.50h-3.9M406.90,758.10h-3.9M406.90,753.91h-3.9M406.90,749.71h-3.9M406.90,745.52h-3.9M406.90,737.12h-3.9M406.90,732.93h-3.9M406.90,728.73h-3.9M406.90,724.54h-3.9M406.90,716.14h-3.9M406.90,711.95h-3.9M406.90,707.75h-3.9" stroke="#000" stroke-width="2.1" fill="none"/>
<text x="403.15" y="888.25" font-size="12.80" textLength="7.51" lengthAdjust="spacingAndGlyphs">0</text>
<text x="459.84" y="888.25" font-size="12.80" textLength="15.02" lengthAdjust="spacingAndGlyphs">50</text>
<text x="516.54" y="888.25" font-size="12.80" textLength="22.52" lengthAdjust="spacingAndGlyphs">100</text>
<text x="576.99" y="888.25" font-size="12.80" textLength="22.52" lengthAdjust="spacingAndGlyphs">150</text>
<text x="637.44" y="888.25" font-size="12.80" textLength="22.52" lengthAdjust="spacingAndGlyphs">200</text>
<text x="385.49" y="872.00" font-size="12.80" textLength="7.51" lengthAdjust="spacingAndGlyphs">0</text>
<text x="385.49" y="851.02" font-size="12.80" textLength="7.51" lengthAdjust="spacingAndGlyphs">2</text>
<text x="385.49" y="830.04" font-size="12.80" textLength="7.51" lengthAdjust="spacingAndGlyphs">4</text>
<text x="385.49" y="809.06" font-size="12.80" textLength="7.51" lengthAdjust="spacingAndGlyphs">6</text>
<text x="385.49" y="788.08" font-size="12.80" textLength="7.51" lengthAdjust="spacingAndGlyphs">8</text>
<text x="377.98" y="767.10" font-size="12.80" textLength="15.02" lengthAdjust="spacingAndGlyphs">10</text>
<text x="377.98" y="746.12" font-size="12.80" textLength="15.02" lengthAdjust="spacingAndGlyphs">12</text>
<text x="377.98" y="725.14" font-size="12.80" textLength="15.02" lengthAdjust="spacingAndGlyphs">14</text>
<text x="507.63" y="900.65" font-size="12.80" textLength="40.33" lengthAdjust="spacingAndGlyphs">Time/h</text>
<text x="519.46" y="915.25" font-size="12.80" textLength="4.60" lengthAdjust="spacingAndGlyphs">(</text>
<text x="524.06" y="915.25" font-size="12.80" textLength="7.48" lengthAdjust="spacingAndGlyphs" font-style="italic">h</text>
<text x="531.54" y="915.25" font-size="12.80" textLength="4.60" lengthAdjust="spacingAndGlyphs">)</text>
<text transform="translate(369.19,786.73) rotate(-90)" x="-64.73" y="0" font-size="12.80" textLength="129.47" lengthAdjust="spacingAndGlyphs">Standard deviation/&#37;</text>
<text x="163.15" y="8.76" font-size="12.80" textLength="79.90" lengthAdjust="spacingAndGlyphs">Relative error</text>
<text x="472.51" y="8.76" font-size="12.80" textLength="110.57" lengthAdjust="spacingAndGlyphs">Relative difference</text>
<path d="M590.0,8.7H617.2" stroke="#dc143c" stroke-width="2.35"/>
<circle cx="603.7" cy="27.3" r="2.7"/>
<text x="624.30" y="13.10" font-size="12.80" textLength="58.55" lengthAdjust="spacingAndGlyphs">Analytical</text>
<text x="624.50" y="31.60" font-size="12.80" textLength="61.39" lengthAdjust="spacingAndGlyphs">Numerical</text>
</svg>
</body></html>
